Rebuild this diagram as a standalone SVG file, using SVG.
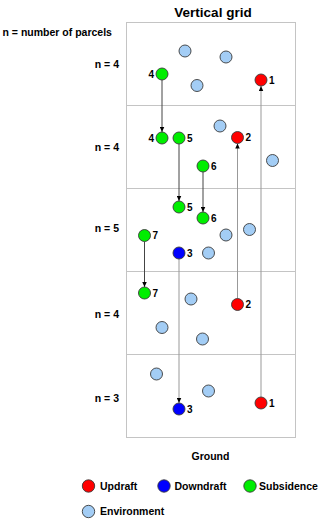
<svg xmlns="http://www.w3.org/2000/svg" width="320" height="521" viewBox="0 0 320 521">
<style>
text{font-family:"Liberation Sans",Arial,sans-serif;font-weight:bold;fill:#000}
.t{font-size:13.5px}
.l{font-size:10.5px}
.n{font-size:10px}
.grid{fill:none;stroke:#c4c4c4;stroke-width:1}
circle{stroke:#3a3a3a;stroke-width:0.9}
.up{fill:#ff0000}
.dn{fill:#0000ff}
.sb{fill:#00ee00}
.env{fill:#a3cdf5}
.cs{stroke:#444;stroke-width:1;fill:none}
.cg{stroke:#999;stroke-width:1;fill:none}
</style>
<defs>
<marker id="ah" markerUnits="userSpaceOnUse" markerWidth="5" markerHeight="5" viewBox="0 0 10 10" refX="10" refY="5" orient="auto">
<path d="M0,0.5 L10,5 L0,9.5 z" fill="#000"/>
</marker>
</defs>
<rect width="320" height="521" fill="#fff"/>
<text class="t" x="213" y="17" text-anchor="middle">Vertical grid</text>
<text class="l" x="2.5" y="35.5">n = number of parcels</text>
<g id="grid">
<rect class="grid" x="126.5" y="22.5" width="169" height="415"/>
<line class="grid" x1="126.5" y1="105.5" x2="295.5" y2="105.5"/>
<line class="grid" x1="126.5" y1="188.5" x2="295.5" y2="188.5"/>
<line class="grid" x1="126.5" y1="271.5" x2="295.5" y2="271.5"/>
<line class="grid" x1="126.5" y1="354.5" x2="295.5" y2="354.5"/>
</g>
<g id="rowlabels">
<text class="l" x="119" y="67.5" text-anchor="end">n = 4</text>
<text class="l" x="119" y="150.5" text-anchor="end">n = 4</text>
<text class="l" x="119" y="232" text-anchor="end">n = 5</text>
<text class="l" x="119" y="318" text-anchor="end">n = 4</text>
<text class="l" x="119" y="402" text-anchor="end">n = 3</text>
</g>
<g id="connectors">
<line class="cs" x1="162" y1="80" x2="162" y2="132" marker-end="url(#ah)"/>
<line class="cs" x1="179" y1="144" x2="179" y2="201" marker-end="url(#ah)"/>
<line class="cs" x1="203" y1="172" x2="203" y2="212" marker-end="url(#ah)"/>
<line class="cs" x1="144.5" y1="241.5" x2="144.5" y2="287" marker-end="url(#ah)"/>
<line class="cg" x1="179" y1="259" x2="179" y2="403" marker-end="url(#ah)"/>
<line class="cg" x1="261" y1="397" x2="261" y2="86" marker-end="url(#ah)"/>
<line class="cg" x1="237.5" y1="298.5" x2="237.5" y2="143.5" marker-end="url(#ah)"/>
</g>
<g id="environment">
<circle class="env" cx="185" cy="51" r="6"/>
<circle class="env" cx="226" cy="57" r="6"/>
<circle class="env" cx="197" cy="85.5" r="6"/>
<circle class="env" cx="220" cy="126" r="6"/>
<circle class="env" cx="272.5" cy="160.5" r="6"/>
<circle class="env" cx="226" cy="235" r="6"/>
<circle class="env" cx="249.5" cy="229.5" r="6"/>
<circle class="env" cx="208.5" cy="253" r="6"/>
<circle class="env" cx="191" cy="299" r="6"/>
<circle class="env" cx="162" cy="327.5" r="6"/>
<circle class="env" cx="202.5" cy="339" r="6"/>
<circle class="env" cx="156.5" cy="374" r="6"/>
<circle class="env" cx="208.5" cy="391" r="6"/>
</g>
<g id="sub4a"><circle class="sb" cx="162" cy="74" r="6"/><text class="n" x="154" y="77.5" text-anchor="end">4</text></g>
<g id="up1a"><circle class="up" cx="261" cy="80" r="6"/><text class="n" x="269" y="83.5">1</text></g>
<g id="sub4b"><circle class="sb" cx="162" cy="138" r="6"/><text class="n" x="154" y="141.5" text-anchor="end">4</text></g>
<g id="sub5a"><circle class="sb" cx="179" cy="138" r="6"/><text class="n" x="187" y="141.5">5</text></g>
<g id="up2a"><circle class="up" cx="237.5" cy="137.5" r="6"/><text class="n" x="245.5" y="141">2</text></g>
<g id="sub6a"><circle class="sb" cx="203" cy="166" r="6"/><text class="n" x="211" y="169.5">6</text></g>
<g id="sub5b"><circle class="sb" cx="179" cy="207" r="6"/><text class="n" x="187" y="210.5">5</text></g>
<g id="sub6b"><circle class="sb" cx="203" cy="218" r="6"/><text class="n" x="211" y="221.5">6</text></g>
<g id="sub7a"><circle class="sb" cx="144.5" cy="235.5" r="6"/><text class="n" x="152.5" y="239">7</text></g>
<g id="dn3a"><circle class="dn" cx="179" cy="253" r="6"/><text class="n" x="187" y="256.5">3</text></g>
<g id="sub7b"><circle class="sb" cx="144.5" cy="293" r="6"/><text class="n" x="152.5" y="296.5">7</text></g>
<g id="up2b"><circle class="up" cx="237.5" cy="304.5" r="6"/><text class="n" x="245.5" y="308">2</text></g>
<g id="dn3b"><circle class="dn" cx="179" cy="409" r="6"/><text class="n" x="187" y="412.5">3</text></g>
<g id="up1b"><circle class="up" cx="261" cy="403" r="6"/><text class="n" x="269" y="406.5">1</text></g>
<text class="l" x="210.5" y="460" text-anchor="middle">Ground</text>
<g id="legend">
<g id="leg-up"><circle class="up" cx="88.5" cy="486" r="6.2"/><text class="l" x="100" y="489.5">Updraft</text></g>
<g id="leg-dn"><circle class="dn" cx="164" cy="486" r="6.2"/><text class="l" x="174.5" y="489.5">Downdraft</text></g>
<g id="leg-sb"><circle class="sb" cx="250" cy="486" r="6.2"/><text class="l" x="259" y="489.5">Subsidence</text></g>
<g id="leg-env"><circle class="env" cx="88.5" cy="511.5" r="6.2"/><text class="l" x="100" y="515">Environment</text></g>
</g>
</svg>
